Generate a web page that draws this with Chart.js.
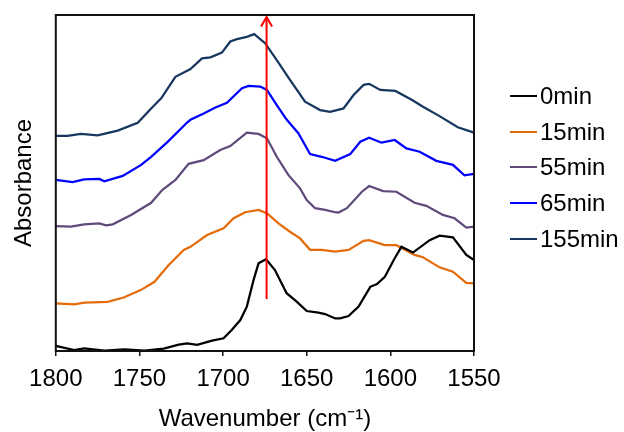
<!DOCTYPE html>
<html>
<head>
<meta charset="utf-8">
<script src="https://cdn.jsdelivr.net/npm/chart.js@4.4.1/dist/chart.umd.min.js"></script>
<style>
    body { margin: 0; background: #fff; }
    #wrap { position: relative; width: 624px; height: 432px; }
    #legend { position: absolute; left: 510px; top: 78px; font-family: 'Liberation Sans', Arial, sans-serif; font-size: 24px; color: #000; }
    .row { display: flex; align-items: center; height: 35.7px; line-height: 35.7px; }
    .swatch { width: 27px; height: 2px; margin-right: 3px; }
</style>
</head>
<body>
<div id="wrap">
    <canvas id="irChart" width="624" height="432"></canvas>
    <div id="legend"></div>
</div>
<script>
// IR spectra, [wavenumber cm-1, absorbance (offset, a.u.)]
const spec0 = [[1800,0.015],[1789,0.003],[1783,0.008],[1771,0.001],[1759,0.005],[1747,0.001],[1735.5,0.007],[1726.5,0.019],[1721.5,0.023],[1715.5,0.018],[1706.6,0.031],[1699.7,0.038],[1694.7,0.063],[1689.7,0.092],[1685.8,0.132],[1681.8,0.211],[1678.8,0.261],[1674.3,0.273],[1669,0.241],[1662,0.172],[1656,0.147],[1650,0.119],[1643,0.114],[1639,0.110],[1633,0.097],[1630,0.097],[1625,0.104],[1619,0.132],[1612,0.191],[1608,0.199],[1603.3,0.221],[1597.4,0.276],[1593.4,0.310],[1586.5,0.293],[1576.5,0.330],[1570.6,0.343],[1562.6,0.338],[1554.6,0.286],[1550,0.271]];
const spec15 = [[1800,0.142],[1789,0.139],[1783,0.144],[1769,0.146],[1759,0.160],[1749,0.182],[1741,0.206],[1732.5,0.256],[1723.5,0.301],[1719.5,0.310],[1709.6,0.345],[1699.7,0.365],[1693.7,0.395],[1686.8,0.413],[1678.8,0.420],[1673.8,0.410],[1666.9,0.380],[1660,0.355],[1654,0.335],[1648,0.301],[1641,0.301],[1633,0.296],[1625,0.301],[1616,0.328],[1612.7,0.330],[1603.3,0.315],[1596.4,0.315],[1585.5,0.286],[1580.5,0.279],[1570.6,0.249],[1562.6,0.236],[1554.6,0.203],[1550,0.201]];
const spec55 = [[1800,0.372],[1791,0.370],[1783,0.377],[1774,0.380],[1770,0.374],[1766,0.377],[1755,0.405],[1743,0.441],[1736.4,0.479],[1728.5,0.509],[1720.6,0.557],[1711.6,0.568],[1701.7,0.598],[1695.7,0.610],[1685.8,0.650],[1678.8,0.646],[1673.8,0.633],[1667.9,0.578],[1661,0.524],[1654,0.484],[1650,0.449],[1645,0.425],[1639,0.420],[1633,0.413],[1631,0.412],[1626,0.425],[1617,0.474],[1612.7,0.491],[1604.3,0.476],[1596.4,0.474],[1585.5,0.441],[1578.5,0.432],[1568.6,0.405],[1561.6,0.395],[1554.6,0.367],[1550,0.370]];
const spec65 = [[1800,0.509],[1790,0.503],[1783,0.511],[1774,0.512],[1771,0.505],[1760,0.521],[1749,0.554],[1743,0.578],[1733,0.623],[1721.5,0.680],[1719.5,0.688],[1711.6,0.707],[1704.6,0.725],[1697.7,0.739],[1688.7,0.782],[1684.8,0.789],[1677.8,0.787],[1673.8,0.777],[1667.9,0.732],[1661.9,0.688],[1655,0.648],[1648,0.586],[1641,0.578],[1633,0.566],[1624,0.586],[1618,0.623],[1612.7,0.635],[1605.3,0.620],[1597.4,0.628],[1590.4,0.603],[1582.5,0.593],[1572.5,0.566],[1562.6,0.554],[1555.7,0.523],[1550,0.527]];
const spec155 = [[1800,0.640],[1793,0.640],[1785,0.646],[1775,0.642],[1763,0.656],[1751,0.679],[1743,0.722],[1737,0.752],[1728.5,0.816],[1719.5,0.839],[1712.6,0.871],[1707.6,0.874],[1700.7,0.888],[1695.7,0.921],[1691.7,0.928],[1685.8,0.935],[1681.4,0.943],[1674.9,0.916],[1667.9,0.866],[1660,0.807],[1651,0.742],[1642,0.717],[1636,0.712],[1628,0.722],[1622,0.762],[1616,0.792],[1612.7,0.795],[1606,0.777],[1597,0.774],[1587,0.747],[1580.5,0.727],[1570.6,0.699],[1559.7,0.666],[1550,0.650]];

const seriesLabels = ['0min', '15min', '55min', '65min', '155min'];
const seriesColors = ['#000000', '#E46C0A', '#604A7B', '#0000FF', '#17375E'];
const seriesData = [spec0, spec15, spec55, spec65, spec155];

// red arrow marking the amide band
const arrowWn = 1674;
const arrowFrom = 0.155;
const arrowTo = 0.994;

const xTicks = [1800, 1750, 1700, 1650, 1600, 1550];

function toPoints(arr) {
    return arr.map(p => ({ x: p[0], y: p[1] }));
}

const frameAndArrow = {
    id: 'frameAndArrow',
    afterDatasetsDraw(chart) {
        const ctx = chart.ctx;
        const a = chart.chartArea;
        // arrow head on the red line
        const tip = chart.getDatasetMeta(0).data[1];
        ctx.save();
        ctx.strokeStyle = '#FF0000';
        ctx.lineWidth = 2;
        ctx.beginPath();
        ctx.moveTo(tip.x - 5.5, tip.y + 9.5);
        ctx.lineTo(tip.x, tip.y);
        ctx.lineTo(tip.x + 5.5, tip.y + 9.5);
        ctx.stroke();
        // plot frame
        ctx.strokeStyle = '#111';
        ctx.lineWidth = 2;
        ctx.strokeRect(a.left, a.top, a.right - a.left, a.bottom - a.top);
        ctx.restore();
    }
};

function initChart() {
    Chart.defaults.font.family = "'Liberation Sans', Arial, sans-serif";
    Chart.defaults.font.size = 24;
    Chart.defaults.color = '#000';

    const datasets = [{
        label: 'arrow',
        data: [{ x: arrowWn, y: arrowFrom }, { x: arrowWn, y: arrowTo }],
        borderColor: '#FF0000',
        borderWidth: 2,
        pointRadius: 0,
        clip: false
    }];
    seriesLabels.forEach((label, i) => {
        datasets.push({
            label: label,
            data: toPoints(seriesData[i]),
            borderColor: seriesColors[i],
            borderWidth: 2.25,
            pointRadius: 0,
            tension: 0,
            clip: 2
        });
    });

    const ctx = document.getElementById('irChart').getContext('2d');
    new Chart(ctx, {
        type: 'line',
        data: { datasets: datasets },
        options: {
            responsive: false,
            animation: false,
            layout: { padding: { left: 10, right: 150, top: 15, bottom: 0 } },
            plugins: {
                legend: { display: false },
                tooltip: { enabled: false }
            },
            scales: {
                x: {
                    type: 'linear',
                    reverse: true,
                    min: 1550,
                    max: 1800,
                    afterBuildTicks: axis => { axis.ticks = xTicks.map(v => ({ value: v })); },
                    ticks: { padding: 11, maxRotation: 0, font: { lineHeight: 1 }, callback: v => String(v) },
                    grid: { drawOnChartArea: false, drawTicks: true, tickLength: 5, color: '#111', lineWidth: 1.5 },
                    border: { display: false },
                    title: { display: true, text: 'Wavenumber (cm\u207B\u00B9)', font: { lineHeight: 1 }, padding: { top: 5.5, bottom: 0.5 } }
                },
                y: {
                    min: 0,
                    max: 1,
                    ticks: { display: false },
                    grid: { display: false },
                    border: { display: false },
                    title: { display: true, text: 'Absorbance', padding: { top: 0, bottom: 9 } }
                }
            }
        },
        plugins: [frameAndArrow]
    });
}

function initLegend() {
    const legend = document.getElementById('legend');
    seriesLabels.forEach((label, i) => {
        const row = document.createElement('div');
        row.className = 'row';
        row.innerHTML = `<span class="swatch" style="background:${seriesColors[i]}"></span><span>${label}</span>`;
        legend.appendChild(row);
    });
}

document.addEventListener('DOMContentLoaded', function() {
    initChart();
    initLegend();
});
</script>
</body>
</html>
